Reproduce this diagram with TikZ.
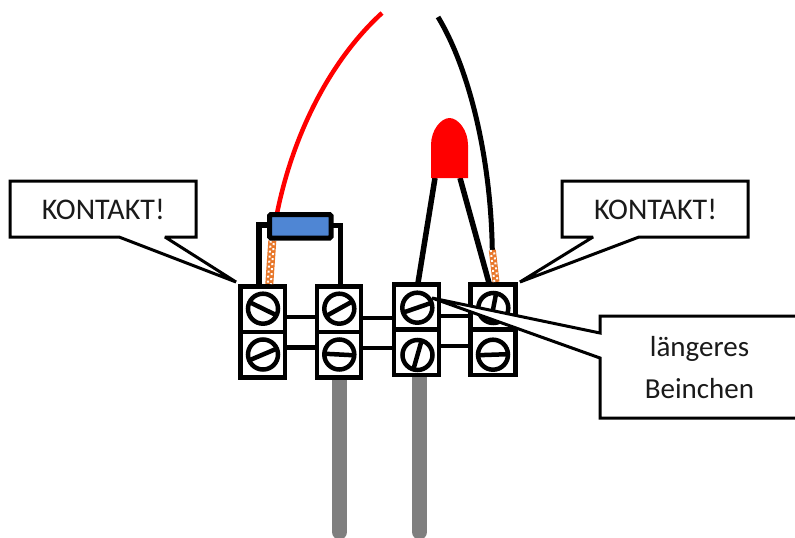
\documentclass[tikz,border=0pt]{standalone}
\usepackage{fontspec}
\setmainfont{Carlito}
\definecolor{rod}{HTML}{7F7F7F}
\definecolor{resblue}{HTML}{4F86D4}
\definecolor{braid}{HTML}{E8772A}
\definecolor{txt}{HTML}{1A1A1A}
\tikzset{
  terminal/.style={draw=black,fill=white,line width=4.5pt,line join=miter,minimum width=#1,minimum height=45.5pt,inner sep=0pt,outer sep=0pt},
  screw/.style={draw=black,line width=4.5pt,circle,minimum size=30pt,inner sep=0pt,outer sep=0pt},
  slot/.style={line width=4.5pt,black},
  bus/.style={line width=4.5pt,black},
  leg/.style={line width=5.5pt,black},
  rodline/.style={line width=15pt,rod,line cap=round},
  callout/.style={draw=black,fill=white,line width=3pt,line join=miter,miter limit=3},
  label/.style={font=\fontsize{30}{41.5}\selectfont,text=txt,inner sep=0pt,outer sep=0pt,align=center},
  labelsmall/.style={font=\fontsize{29}{41.5}\selectfont,text=txt,inner sep=0pt,outer sep=0pt,align=center},
}
\newcommand{\braidline}[5]{%
  \draw[line width=#5,braid] (#1,#2) -- (#3,#4);
  \draw[line width=2pt,white,dash pattern=on 2pt off 3pt] ([xshift=-1.6pt]#1,#2) -- ([xshift=-1.6pt]#3,#4);
  \draw[line width=2pt,white,dash pattern=on 2pt off 3pt,dash phase=2.5pt] ([xshift=1.6pt]#1,#2) -- ([xshift=1.6pt]#3,#4);
}
\begin{document}
\begin{tikzpicture}[x=1pt,y=-1pt]
\useasboundingbox (0,0) rectangle (795,538);
\clip (0,0) rectangle (795,538);
\fill[white] (0,0) rectangle (795,538);

% rods
\coordinate (rodAend) at (339.5,532);
\coordinate (rodBend) at (419.5,532);
\draw[rodline] (339.5,370) -- (rodAend);
\draw[rodline] (419.5,370) -- (rodBend);

% terminal blocks
\node[terminal=44.5pt] (t1a) at (262.75,309) {};
\node[terminal=44.5pt] (t1b) at (262.75,354.5) {};
\node[terminal=44pt]   (t2a) at (339,309) {};
\node[terminal=44pt]   (t2b) at (339,354.5) {};
\node[terminal=45pt]   (t3a) at (416.5,307) {};
\node[terminal=45pt]   (t3b) at (416.5,352.3) {};
\node[terminal=45pt]   (t4a) at (493,307) {};
\node[terminal=45pt]   (t4b) at (493,352.3) {};

% bridges between blocks
\coordinate (b1) at (0,317); \coordinate (b2) at (0,347.5);
\coordinate (b3) at (0,318); \coordinate (b4) at (0,348);
\coordinate (b5) at (0,316); \coordinate (b6) at (0,346);
\draw[bus] (t1a.east |- b1) -- (t2a.west |- b1);
\draw[bus] (t1b.east |- b2) -- (t2b.west |- b2);
\draw[bus] (t2a.east |- b3) -- (t3a.west |- b3);
\draw[bus] (t2b.east |- b4) -- (t3b.west |- b4);
\draw[bus] (t3a.east |- b5) -- (t4a.west |- b5);
\draw[bus] (t3b.east |- b6) -- (t4b.west |- b6);

% screws
\node[screw] (s1a) at (263,308.7) {};
\node[screw] (s1b) at (263,354.5) {};
\node[screw] (s2a) at (339.3,308.7) {};
\node[screw] (s2b) at (339.3,354.5) {};
\node[screw] (s3a) at (417.3,307.7) {};
\node[screw] (s3b) at (417.5,355) {};
\node[screw] (s4a) at (493.3,308) {};
\node[screw] (s4b) at (493,354.7) {};
\draw[slot] (s1a.154) -- (s1a.-26);
\draw[slot] (s1b.203) -- (s1b.23);
\draw[slot] (s2a.209) -- (s2a.29);
\draw[slot] (s2b.177) -- (s2b.-3);
\draw[slot] (s3a.199) -- (s3a.19);
\draw[slot] (s3b.254) -- (s3b.74);
\draw[slot] (s4a.259) -- (s4a.79);
\draw[slot] (s4b.182) -- (s4b.2);

% red wire and stripped end
\draw[red,line width=4.5pt] (382,13) .. controls (325,65) and (285,150) .. (272.5,240);
\braidline{272.3}{240.7}{269.3}{284}{8pt}

% black wire and stripped end
\draw[black,line width=5pt] (438,17) .. controls (470,70) and (491,160) .. (492.3,251);
\braidline{492.3}{250}{496}{282}{7pt}

% resistor with leads
\node[draw=black,fill=resblue,line width=5pt,rounded corners=1.5pt,minimum width=61.5pt,minimum height=23.5pt,inner sep=0pt,outer sep=0pt] (res) at (300.25,226.25) {};
\coordinate (resL) at (259,225);
\coordinate (resR) at (340,225);
\draw[line width=5.5pt,black,line join=miter] (res.west |- resL) -- (resL) -- (resL |- t1a.north);
\draw[line width=5pt,black,line join=miter] (res.east |- resR) -- (resR) -- (resR |- t2a.north);

% LED
\coordinate (ledL) at (435,178);
\coordinate (ledR) at (460,178);
\draw[leg] (ledL) -- (418,283);
\draw[leg] (ledR) -- (489,283);
\fill[red] (431,178) -- (431,145) .. controls (431,130) and (441,118) .. (449.5,118)
  .. controls (458,118) and (468,130) .. (468,145) -- (468,178) -- cycle;

% callouts
\draw[callout] (10,181) -- (196,181) -- (196,237) -- (165,237) -- (236,282) -- (119,237) -- (10,237) -- cycle;
\draw[callout] (562,181) -- (748,181) -- (748,237) -- (639,237) -- (520,282) -- (593,237) -- (562,237) -- cycle;
\draw[callout] (600,316) -- (810,316) -- (810,418) -- (600,418) -- (600,358) -- (432,298) -- (600,333) -- cycle;

\node[label,anchor=base] (k1) at (103.3,219) {KONTAKT!};
\node[label,anchor=base] (k2) at (655.5,219) {KONTAKT!};
\node[labelsmall] (k3) at (699.5,367.5) {längeres\\Beinchen};
\end{tikzpicture}
\end{document}
